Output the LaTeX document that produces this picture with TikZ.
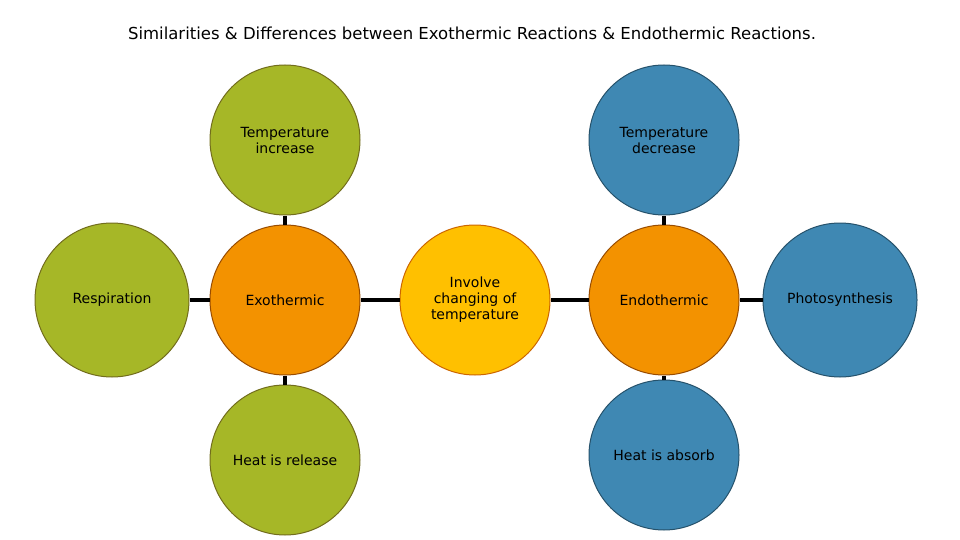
\documentclass[tikz,border=0pt]{standalone}
\usepackage{fontspec}
\setmainfont{DejaVu Sans}
\begin{document}
\begin{tikzpicture}[x=1pt,y=-1pt,
 circ/.style={circle,minimum size=150pt,inner sep=0pt,line width=1pt,align=center,font=\fontsize{14}{16}\selectfont},
 grn/.style={circ,draw=olive!75!black},
 org/.style={circ,draw=orange!60!black},
 yel/.style={circ,draw=orange!80!black},
 blu/.style={circ,draw=b!60!black},
 link/.style={line width=4.5pt,black}]
\useasboundingbox (0,0) rectangle (960,540);
\definecolor{g}{HTML}{A6B727}\definecolor{o}{HTML}{F39200}\definecolor{y}{HTML}{FFC000}\definecolor{b}{HTML}{3F88B3}
\node at (472,33) {\fontsize{16.5}{18}\selectfont Similarities \& Differences between Exothermic Reactions \& Endothermic Reactions.};
\node[grn,fill=g] (ti) at (285,140) {Temperature\\increase};
\node[blu,fill=b] (td) at (664,140) {Temperature\\decrease};
\node[grn,fill=g,minimum size=154pt] (re) at (112,300) {Respiration};
\node[org,fill=o] (ex) at (285,300) {Exothermic};
\node[yel,fill=y] (inv) at (475,300) {Involve\\changing of\\temperature};
\node[org,fill=o] (en) at (664,300) {Endothermic};
\node[blu,fill=b,minimum size=154pt] (ph) at (840,300) {Photosynthesis};
\node[grn,fill=g] (hr) at (285,460) {Heat is release};
\node[blu,fill=b] (ha) at (664,455) {Heat is absorb};
\draw[link] (ti) -- (ex); \draw[link] (ex) -- (hr); \draw[link] (re) -- (ex);
\draw[link] (ex) -- (inv); \draw[link] (inv) -- (en); \draw[link] (td) -- (en);
\draw[link] (en) -- (ha); \draw[link] (en) -- (ph);
\end{tikzpicture}
\end{document}
